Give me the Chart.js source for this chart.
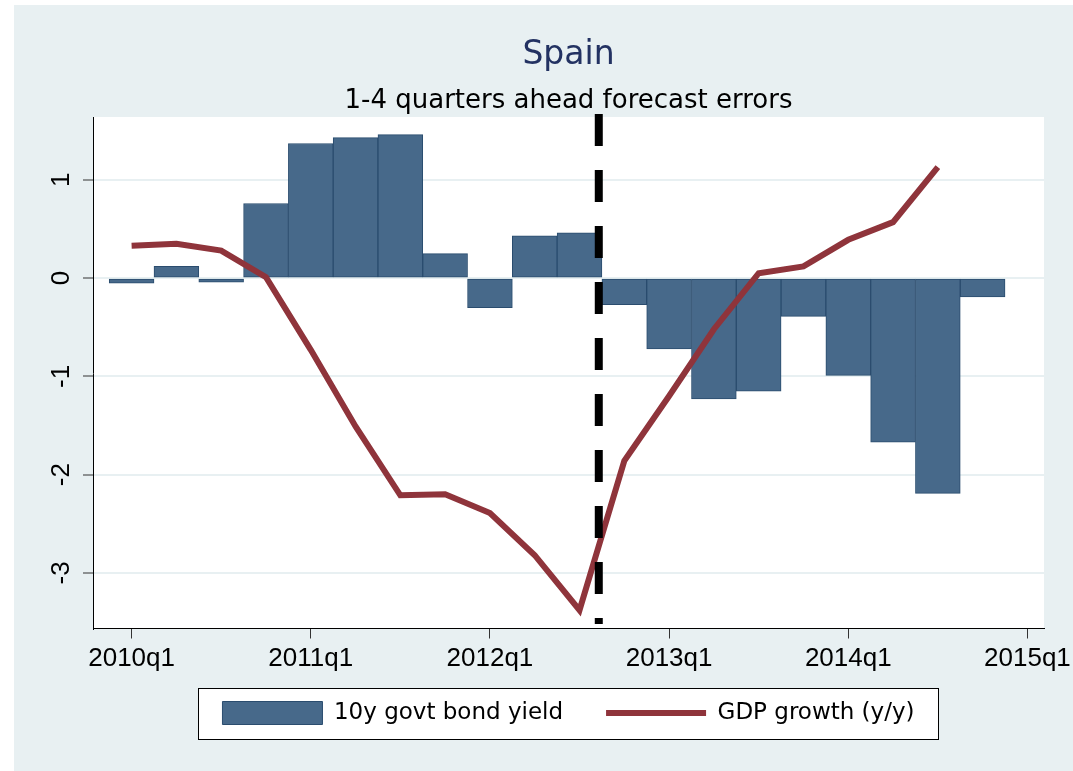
<!DOCTYPE html>
<html>
<head>
<meta charset="utf-8">
<title>Spain</title>
<script src="https://cdn.jsdelivr.net/npm/chart.js@4.4.1/dist/chart.umd.min.js"></script>
<style>
  html, body { margin: 0; padding: 0; background: #fff; overflow: hidden; }
  #wrap { position: relative; width: 1073px; height: 771px; }
</style>
</head>
<body>
<div id="wrap"><canvas id="miGrafico"></canvas></div>
<script>
// DATOS
const quarters = ['2010q1', '2010q2', '2010q3', '2010q4', '2011q1', '2011q2', '2011q3', '2011q4',
                  '2012q1', '2012q2', '2012q3', '2012q4', '2013q1', '2013q2', '2013q3', '2013q4',
                  '2014q1', '2014q2', '2014q3', '2014q4'];
const bondYield = [-0.05, 0.12, -0.04, 0.76, 1.37, 1.43, 1.46, 0.25, -0.30, 0.43,
                   0.46, -0.27, -0.72, -1.23, -1.15, -0.39, -0.99, -1.67, -2.19, -0.19];
const gdpGrowth = [0.33, 0.35, 0.28, 0.01, -0.73, -1.51, -2.21, -2.20, -2.39, -2.82,
                   -3.38, -1.86, -1.20, -0.52, 0.05, 0.12, 0.39, 0.57, 1.13];
const xTickLabels = ['2010q1', '2011q1', '2012q1', '2013q1', '2014q1', '2015q1'];
const yTicks = [-3, -2, -1, 0, 1];

// ejes y linea vertical del corte
const xMin = -0.862, xMax = 20.37;
const yMin = -3.566, yMax = 1.64;
const forecastBreak = 10.43;
const breakTop = 1.67, breakBottom = -3.52;

// fondo gris-azulado, area blanca y caja de la leyenda
const fondo = {
  id: 'fondo',
  beforeDraw(chart) {
    const {ctx, chartArea: a, legend} = chart;
    ctx.save();
    ctx.fillStyle = '#ffffff';
    ctx.fillRect(0, 0, chart.width, chart.height);
    ctx.fillStyle = '#e8f0f2';
    ctx.fillRect(14, 5, chart.width - 14, chart.height - 5);
    ctx.fillStyle = '#ffffff';
    ctx.fillRect(a.left, a.top, a.right - a.left, a.bottom - a.top);

    const cx = (legend.left + legend.right) / 2;
    const cy = legend.top + 43 + 11.5;
    const x0 = Math.round(cx - 371) + 0.5, y0 = Math.round(cy - 25.5) + 0.5;
    ctx.fillRect(x0, y0, 740, 51);
    ctx.strokeStyle = '#000';
    ctx.lineWidth = 1;
    ctx.strokeRect(x0, y0, 740, 51);
    ctx.restore();
  }
};

const ctx = document.getElementById('miGrafico');

new Chart(ctx, {
  type: 'bar',
  plugins: [fondo],
  data: {
    datasets: [{
      type: 'bar',
      label: '10y govt bond yield',
      data: quarters.map((q, i) => ({x: i, y: bondYield[i]})),
      backgroundColor: '#47698a',
      borderColor: '#2a4c6e',
      borderWidth: 1,
      borderSkipped: false,
      barPercentage: 1,
      categoryPercentage: 1,
      order: 3
    }, {
      type: 'line',
      label: 'GDP growth (y/y)',
      data: gdpGrowth.map((v, i) => ({x: i, y: v})),
      borderColor: '#8f343b',
      backgroundColor: '#8f343b',
      borderWidth: 6,
      pointRadius: 0,
      tension: 0,
      order: 2
    }, {
      type: 'line',
      label: 'corte',
      data: [{x: forecastBreak, y: breakTop}, {x: forecastBreak, y: breakBottom}],
      borderColor: '#000000',
      borderWidth: 8,
      borderDash: [32, 24],
      pointRadius: 0,
      clip: false,
      order: 1
    }]
  },
  options: {
    responsive: true,
    maintainAspectRatio: false,
    animation: false,
    layout: {
      padding: {left: 14, right: 29, top: 0, bottom: 36.5}
    },
    plugins: {
      title: {
        display: true,
        text: 'Spain',
        fullSize: false,
        color: '#233262',
        font: {family: 'DejaVu Sans', size: 33, weight: 'normal'},
        padding: {top: 35.7, bottom: 0}
      },
      subtitle: {
        display: true,
        text: '1-4 quarters ahead forecast errors',
        fullSize: false,
        color: '#000',
        font: {family: 'DejaVu Sans', size: 26, weight: 'normal'},
        padding: {top: 10.5, bottom: 0}
      },
      legend: {
        position: 'bottom',
        fullSize: false,
        labels: {
          usePointStyle: true,
          pointStyleWidth: 100,
          boxHeight: 23,
          padding: 43,
          color: '#000',
          font: {family: 'DejaVu Sans', size: 23},
          filter: item => item.datasetIndex < 2,
          sort: (a, b) => a.datasetIndex - b.datasetIndex,
          generateLabels(chart) {
            const items = Chart.defaults.plugins.legend.labels.generateLabels(chart);
            items.forEach(it => {
              it.pointStyle = chart.data.datasets[it.datasetIndex].type === 'line' ? 'line' : 'rect';
            });
            return items;
          }
        }
      },
      tooltip: {enabled: false}
    },
    scales: {
      x: {
        type: 'linear',
        min: xMin,
        max: xMax,
        offset: false,
        afterBuildTicks: s => { s.ticks = xTickLabels.map((t, i) => ({value: i * 4})); },
        afterFit: s => { s.height = 30; },
        ticks: {
          callback: (v, i) => xTickLabels[i],
          color: '#000',
          font: {family: 'Liberation Sans', size: 26},
          // mirror evita el recorte de las etiquetas; el padding negativo las baja
          mirror: true,
          padding: -45.9,
          maxRotation: 0,
          autoSkip: false
        },
        grid: {
          drawOnChartArea: false,
          offset: false,
          tickLength: 10,
          tickColor: '#333',
          tickWidth: 1
        },
        border: {color: '#000', width: 1}
      },
      y: {
        min: yMin,
        max: yMax,
        afterBuildTicks: s => { s.ticks = yTicks.map(v => ({value: v})); },
        afterFit: s => { s.width = 79; },
        ticks: {
          color: '#000',
          font: {family: 'Liberation Sans', size: 26},
          padding: 10,
          minRotation: 90,
          maxRotation: 90,
          crossAlign: 'center',
          autoSkip: false
        },
        grid: {
          color: '#e8f0f2',
          lineWidth: 2,
          tickLength: 10,
          tickColor: '#333',
          tickWidth: 1
        },
        border: {color: '#000', width: 1}
      }
    }
  }
});
</script>
</body>
</html>
